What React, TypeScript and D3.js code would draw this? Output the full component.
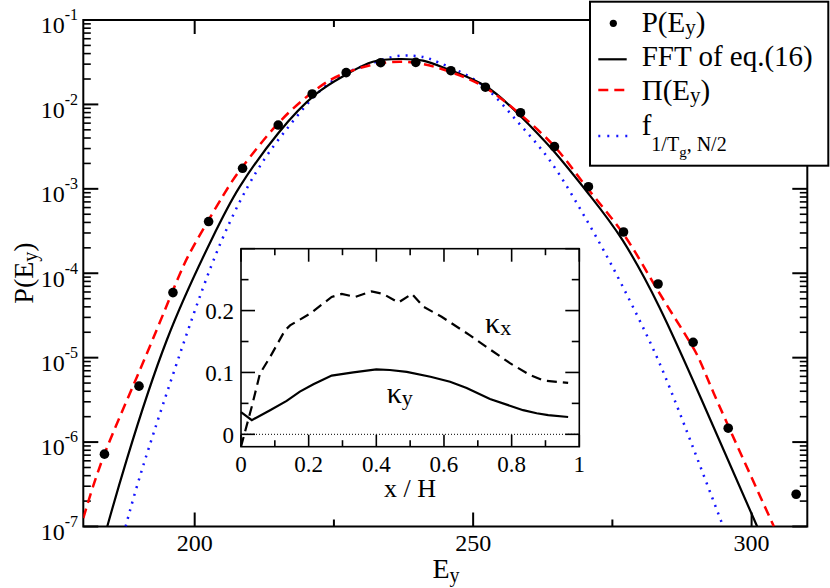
import { curveLinear, curveNatural, line, scaleLinear, scaleLog } from 'd3';

// main panel data: P(E_y) points and three model curves
const pointE = [183.8, 190.0, 196.1, 202.5, 208.6, 215.0, 221.1, 227.2, 233.4, 239.7, 246.0, 252.2, 258.5, 264.6, 270.7, 277.0, 283.2, 289.5, 295.8, 308.0];
const pointP = [7.2e-7, 4.6e-6, 5.9e-5, 4.1e-4, 1.75e-3, 5.7e-3, 1.33e-2, 2.38e-2, 3.12e-2, 3.15e-2, 2.51e-2, 1.6e-2, 7.98e-3, 3.16e-3, 1.06e-3, 3.08e-4, 7.46e-5, 1.52e-5, 1.46e-6, 2.41e-7];

const fftE = [184.3, 187.8, 195.0, 203.0, 208.1, 215.0, 221.8, 227.2, 232.0, 236.8, 241.0, 245.8, 252.4, 258.3, 264.3, 270.9, 276.8, 283.4, 290.9, 301.0];
const fftP = [1e-7, 6.2e-7, 1.62e-5, 2.48e-4, 1.06e-3, 4.55e-3, 1.33e-2, 2.26e-2, 3.2e-2, 3.45e-2, 3.3e-2, 2.56e-2, 1.62e-2, 7.5e-3, 2.88e-3, 8.45e-4, 2.48e-4, 4.02e-5, 3.31e-6, 1e-7];

const piE = [180.0, 183.8, 189.9, 196.2, 199.8, 205.1, 208.6, 215.0, 221.3, 227.2, 236.8, 245.8, 252.4, 258.6, 264.9, 270.3, 277.1, 283.1, 289.4, 293.2, 304.0];
const piP = [1.26e-7, 7.2e-7, 6.5e-6, 6.5e-5, 2.1e-4, 8.3e-4, 1.83e-3, 5.97e-3, 1.42e-2, 2.38e-2, 3.21e-2, 2.44e-2, 1.55e-2, 7.5e-3, 3.02e-3, 1.06e-3, 2.84e-4, 6.34e-5, 1.35e-5, 3.8e-6, 1e-7];

const fE = [187.6, 191.1, 198.0, 204.6, 211.1, 217.1, 223.0, 228.4, 232.0, 236.5, 241.0, 244.0, 251.2, 257.7, 263.7, 269.5, 275.0, 281.0, 286.1, 294.9];
const fP = [1e-7, 6.2e-7, 1.48e-5, 2.24e-4, 1.6e-3, 5.7e-3, 1.55e-2, 2.56e-2, 3.1e-2, 3.75e-2, 3.65e-2, 3.1e-2, 1.78e-2, 6.53e-3, 2.2e-3, 5.37e-4, 1.2e-4, 1.95e-5, 3.24e-6, 1e-7];

// inset data
const kxX = [0.0, 0.032, 0.056, 0.086, 0.13, 0.145, 0.204, 0.268, 0.298, 0.337, 0.386, 0.42, 0.465, 0.505, 0.54, 0.593, 0.677, 0.721, 0.795, 0.854, 0.894, 0.967];
const kxY = [-0.02, 0.045, 0.098, 0.125, 0.168, 0.176, 0.195, 0.222, 0.227, 0.222, 0.231, 0.227, 0.213, 0.227, 0.206, 0.19, 0.16, 0.143, 0.115, 0.096, 0.087, 0.083];
const kyX = [0.0, 0.032, 0.086, 0.135, 0.174, 0.214, 0.268, 0.332, 0.40, 0.44, 0.49, 0.56, 0.618, 0.667, 0.736, 0.834, 0.874, 0.908, 0.967];
const kyY = [0.036, 0.023, 0.039, 0.054, 0.069, 0.081, 0.095, 0.1, 0.105, 0.104, 0.101, 0.093, 0.085, 0.075, 0.057, 0.039, 0.034, 0.031, 0.028];

// ticks
const xMajor = [200, 250, 300];
const xMinor = [225, 275];
const yExp = [-1, -2, -3, -4, -5, -6, -7];
const insetXMajor = [0, 0.2, 0.4, 0.6, 0.8, 1];
const insetXLabels = ['0', '0.2', '0.4', '0.6', '0.8', '1'];
const insetXMinor = [0.1, 0.3, 0.5, 0.7, 0.9];
const insetYMajor = [0, 0.1, 0.2, 0.3];
const insetYLabels = ['0', '0.1', '0.2'];
const insetYMinor = [0.05, 0.15, 0.25];

const SERIF = 'Liberation Serif';

const left = 83.3;
const right = 807.3;
const top = 20;
const bottom = 526.5;

const iLeft = 241;
const iRight = 579.3;
const iTop = 248.7;
const iBottom = 446.7;

export default function App() {
  const x = scaleLinear().domain([180, 310]).range([left, right]);
  const y = scaleLog().domain([1e-7, 1e-1]).range([bottom, top]);

  const ix = scaleLinear().domain([0, 1]).range([iLeft, iRight]);
  const iy = scaleLinear().domain([-0.02, 0.3]).range([iBottom, iTop]);

  const curve = (es: number[], ps: number[]) =>
    line<number>()
      .x((_, i) => x(es[i]))
      .y((_, i) => y(ps[i]))
      .curve(curveNatural)(es) ?? '';

  const insetLine = (xs: number[], ys: number[]) =>
    line<number>()
      .x((_, i) => ix(xs[i]))
      .y((_, i) => iy(ys[i]))
      .curve(curveLinear)(xs) ?? '';

  const yMinor: number[] = [];
  for (let k = -7; k <= -2; k++) {
    for (let j = 2; j <= 9; j++) yMinor.push(j * Math.pow(10, k));
  }

  return (
    <svg width={830} height={588} style={{ position: 'absolute', left: 0, top: 0 }}>
      <defs>
        <clipPath id="plot">
          <rect x={left} y={top} width={right - left} height={bottom - top} />
        </clipPath>
      </defs>
      <rect width={830} height={588} fill="#fff" />

      {/* main frame and ticks */}
      <rect x={left} y={top} width={right - left} height={bottom - top} fill="none" stroke="#000" strokeWidth={2} />
      {xMajor.map((v) => (
        <g key={`xM${v}`} stroke="#000" strokeWidth={2}>
          <line x1={x(v)} x2={x(v)} y1={bottom} y2={bottom - 14} />
          <line x1={x(v)} x2={x(v)} y1={top} y2={top + 14} />
        </g>
      ))}
      {xMinor.map((v) => (
        <g key={`xm${v}`} stroke="#000" strokeWidth={2}>
          <line x1={x(v)} x2={x(v)} y1={bottom} y2={bottom - 7} />
          <line x1={x(v)} x2={x(v)} y1={top} y2={top + 7} />
        </g>
      ))}
      {yExp.map((e) => (
        <g key={`yM${e}`} stroke="#000" strokeWidth={2}>
          <line x1={left} x2={left + 15} y1={y(Math.pow(10, e))} y2={y(Math.pow(10, e))} />
          <line x1={right} x2={right - 15} y1={y(Math.pow(10, e))} y2={y(Math.pow(10, e))} />
        </g>
      ))}
      {yMinor.map((v, i) => (
        <g key={`ym${i}`} stroke="#000" strokeWidth={1.6}>
          <line x1={left} x2={left + 7.5} y1={y(v)} y2={y(v)} />
          <line x1={right} x2={right - 7.5} y1={y(v)} y2={y(v)} />
        </g>
      ))}

      {/* curves */}
      <g clipPath="url(#plot)" fill="none">
        <path d={curve(fE, fP)} stroke="#1414ff" strokeWidth={2.5} strokeDasharray="2,6" />
        <path d={curve(fftE, fftP)} stroke="#000" strokeWidth={2.2} />
        <path d={curve(piE, piP)} stroke="#ff0000" strokeWidth={2.5} strokeDasharray="10,6" />
        {pointE.map((e, i) => (
          <circle key={`p${i}`} cx={x(e)} cy={y(pointP[i])} r={4.8} fill="#000" />
        ))}
      </g>

      {/* inset */}
      <rect x={iLeft} y={iTop} width={iRight - iLeft} height={iBottom - iTop} fill="#fff" stroke="#000" strokeWidth={1.6} />
      {insetXMajor.map((v) => (
        <g key={`ixM${v}`} stroke="#000" strokeWidth={1.6}>
          <line x1={ix(v)} x2={ix(v)} y1={iBottom} y2={iBottom - 12} />
          <line x1={ix(v)} x2={ix(v)} y1={iTop} y2={iTop + 13} />
        </g>
      ))}
      {insetXMinor.map((v) => (
        <g key={`ixm${v}`} stroke="#000" strokeWidth={1.6}>
          <line x1={ix(v)} x2={ix(v)} y1={iBottom} y2={iBottom - 6.5} />
          <line x1={ix(v)} x2={ix(v)} y1={iTop} y2={iTop + 6.5} />
        </g>
      ))}
      {insetYMajor.map((v) => (
        <g key={`iyM${v}`} stroke="#000" strokeWidth={1.6}>
          <line x1={iLeft} x2={iLeft + 14} y1={iy(v)} y2={iy(v)} />
          <line x1={iRight} x2={iRight - 14} y1={iy(v)} y2={iy(v)} />
        </g>
      ))}
      {insetYMinor.map((v) => (
        <g key={`iym${v}`} stroke="#000" strokeWidth={1.6}>
          <line x1={iLeft} x2={iLeft + 7.5} y1={iy(v)} y2={iy(v)} />
          <line x1={iRight} x2={iRight - 7.5} y1={iy(v)} y2={iy(v)} />
        </g>
      ))}
      <line x1={ix(0)} x2={ix(1)} y1={iy(0)} y2={iy(0)} stroke="#000" strokeWidth={1} strokeDasharray="1,2" />
      <path d={insetLine(kxX, kxY)} fill="none" stroke="#000" strokeWidth={2.2} strokeDasharray="10,6" />
      <path d={insetLine(kyX, kyY)} fill="none" stroke="#000" strokeWidth={2.2} />

      {/* legend */}
      <rect x={590} y={1.7} width={238.3} height={164} fill="#fff" stroke="#000" strokeWidth={2} />
      <circle cx={613.3} cy={23.3} r={3.6} fill="#000" />
      <line x1={598.3} x2={626.7} y1={59.3} y2={59.3} stroke="#000" strokeWidth={2.2} />
      <line x1={598.3} x2={628} y1={90} y2={90} stroke="#ff0000" strokeWidth={2.5} strokeDasharray="10,6" />
      <line x1={598.3} x2={628} y1={136} y2={136} stroke="#1414ff" strokeWidth={2.5} strokeDasharray="2,7" />

      {/* text */}
      {xMajor.map((v) => (
        <text key={`xl${v}`} fontFamily={SERIF} x={x(v)} y={551} fontSize={24} textAnchor="middle">
          {v}
        </text>
      ))}
      {yExp.map((e) => (
        <text key={`yl${e}`} fontFamily={SERIF} x={78} y={y(Math.pow(10, e)) + 13.3} fontSize={24} textAnchor="end">
          10
          <tspan fontFamily={SERIF} fontSize={16} dy={-13}>
            {e}
          </tspan>
        </text>
      ))}
      <text fontFamily={SERIF} x={446} y={578} fontSize={28} textAnchor="middle">
        E<tspan fontFamily={SERIF} fontSize={20} dy={4}>y</tspan>
      </text>
      <text fontFamily={SERIF} transform="translate(33,273) rotate(-90)" fontSize={28} textAnchor="middle">
        P(E<tspan fontFamily={SERIF} fontSize={20} dy={4}>y</tspan>
        <tspan fontFamily={SERIF} dy={-4}>)</tspan>
      </text>

      {insetXMajor.map((v, i) => (
        <text key={`ixl${v}`} fontFamily={SERIF} x={ix(v)} y={471.7} fontSize={23} textAnchor="middle">
          {insetXLabels[i]}
        </text>
      ))}
      {insetYLabels.map((s, i) => (
        <text key={`iyl${s}`} fontFamily={SERIF} x={234} y={iy(insetYMajor[i]) + 8.5} fontSize={23} textAnchor="end">
          {s}
        </text>
      ))}
      <text fontFamily={SERIF} x={410} y={497} fontSize={26} textAnchor="middle">
        x / H
      </text>
      <text fontFamily={SERIF} x={485} y={333} fontSize={30}>
        κ<tspan fontFamily={SERIF} fontSize={22} dy={2}>x</tspan>
      </text>
      <text fontFamily={SERIF} x={386.7} y={403} fontSize={30}>
        κ<tspan fontFamily={SERIF} fontSize={22} dy={2}>y</tspan>
      </text>

      <text fontFamily={SERIF} x={641.7} y={31.7} fontSize={29}>
        P(E<tspan fontFamily={SERIF} fontSize={21} dy={2}>y</tspan>
        <tspan fontFamily={SERIF} dy={-2}>)</tspan>
      </text>
      <text fontFamily={SERIF} x={641.7} y={66} fontSize={29}>
        FFT of eq.(16)
      </text>
      <text fontFamily={SERIF} x={641.7} y={100} fontSize={29}>
        Π(E<tspan fontFamily={SERIF} fontSize={21} dy={2}>y</tspan>
        <tspan fontFamily={SERIF} dy={-2}>)</tspan>
      </text>
      <text fontFamily={SERIF} x={641.7} y={135} fontSize={29}>
        f<tspan fontFamily={SERIF} fontSize={20} dy={16}>1/T</tspan>
        <tspan fontFamily={SERIF} fontSize={15} dy={6}>g</tspan>
        <tspan fontFamily={SERIF} fontSize={20} dy={-6}>, N/2</tspan>
      </text>
    </svg>
  );
}
